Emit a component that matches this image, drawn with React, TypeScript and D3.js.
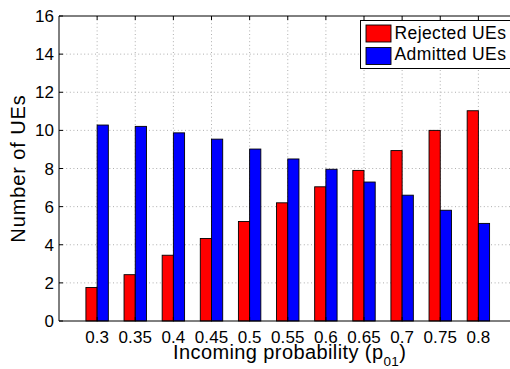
import React, { useRef, useEffect } from "react";
import * as d3 from "d3";

const categories = ["0.3", "0.35", "0.4", "0.45", "0.5", "0.55", "0.6", "0.65", "0.7", "0.75", "0.8"];
const rejected = [1.76, 2.43, 3.45, 4.33, 5.22, 6.2, 7.04, 7.9, 8.94, 10.0, 11.03];
const admitted = [10.28, 10.21, 9.87, 9.54, 9.02, 8.5, 7.96, 7.29, 6.6, 5.81, 5.12];
const yTicks = [0, 2, 4, 6, 8, 10, 12, 14, 16];
const seriesNames = ["Rejected UEs", "Admitted UEs"];
const seriesColors = ["#ff0000", "#0000ff"];

function App() {
  const svgRef = useRef<SVGSVGElement>(null);

  useEffect(() => {
    const w = 510;
    const h = 369;
    const left = 59;
    const right = 516.5;
    const top = 16;
    const bottom = 321;
    const font = "'Liberation Sans', Arial, Helvetica, sans-serif";

    const svg = d3.select(svgRef.current);
    svg.selectAll("*").remove();
    svg.attr("width", w).attr("height", h);

    const xScale = d3.scaleLinear().domain([0, categories.length + 1]).range([left, right]);
    const yScale = d3.scaleLinear().domain([0, 16]).range([bottom, top]);
    const barW = xScale(0.294) - xScale(0);

    svg.append("rect").attr("width", w).attr("height", h).attr("fill", "#fff");

    // grid
    const grid = svg.append("g").attr("stroke", "#9a9a9a").attr("stroke-width", 0.8)
      .attr("stroke-dasharray", "1,2.6");
    grid.selectAll("line.gy")
      .data(yTicks.slice(1, -1))
      .enter()
      .append("line")
      .attr("x1", left).attr("x2", right)
      .attr("y1", (d) => yScale(d)).attr("y2", (d) => yScale(d));
    grid.selectAll("line.gx")
      .data(categories)
      .enter()
      .append("line")
      .attr("x1", (d, i) => xScale(i + 1)).attr("x2", (d, i) => xScale(i + 1))
      .attr("y1", top).attr("y2", bottom);

    // bars
    const groups = [rejected, admitted];
    groups.forEach((vals, s) => {
      svg.append("g")
        .selectAll("rect")
        .data(vals)
        .enter()
        .append("rect")
        .attr("x", (d, i) => xScale(i + 1) + (s - 1) * barW)
        .attr("y", (d) => yScale(d))
        .attr("width", barW)
        .attr("height", (d) => yScale(0) - yScale(d))
        .attr("fill", seriesColors[s])
        .attr("stroke", "#000")
        .attr("stroke-width", 0.9);
    });

    // axes box
    const box = svg.append("g").attr("stroke", "#000").attr("stroke-width", 1).attr("fill", "none");
    box.append("line").attr("x1", left).attr("x2", right).attr("y1", top).attr("y2", top);
    box.append("line").attr("x1", left).attr("x2", right).attr("y1", bottom).attr("y2", bottom);
    box.append("line").attr("x1", left).attr("x2", left).attr("y1", top).attr("y2", bottom);
    box.selectAll("line.ty")
      .data(yTicks)
      .enter()
      .append("line")
      .attr("x1", left).attr("x2", left + 4)
      .attr("y1", (d) => yScale(d)).attr("y2", (d) => yScale(d));
    categories.forEach((c, i) => {
      box.append("line").attr("x1", xScale(i + 1)).attr("x2", xScale(i + 1))
        .attr("y1", bottom).attr("y2", bottom - 4);
      box.append("line").attr("x1", xScale(i + 1)).attr("x2", xScale(i + 1))
        .attr("y1", top).attr("y2", top + 4);
    });

    // tick labels
    const labels = svg.append("g")
      .attr("font-family", font)
      .attr("font-size", 17)
      .attr("letter-spacing", 0.1)
      .attr("fill", "#000");
    labels.selectAll("text.yl")
      .data(yTicks)
      .enter()
      .append("text")
      .attr("x", left - 5)
      .attr("y", (d) => yScale(d) + 6)
      .attr("text-anchor", "end")
      .text((d) => d);
    labels.selectAll("text.xl")
      .data(categories)
      .enter()
      .append("text")
      .attr("x", (d, i) => xScale(i + 1))
      .attr("y", 342.5)
      .attr("text-anchor", "middle")
      .text((d) => d);

    // axis titles
    const xt = svg.append("text")
      .attr("font-family", font)
      .attr("font-size", 20)
      .attr("letter-spacing", 0.4)
      .attr("x", 173)
      .attr("y", 358.5);
    xt.append("tspan").text("Incoming probability (p");
    xt.append("tspan").attr("font-size", 13.5).attr("dy", 7.5).text("01");
    xt.append("tspan").attr("dy", -7.5).text(")");

    svg.append("text")
      .attr("font-family", font)
      .attr("font-size", 20)
      .attr("letter-spacing", 0.9)
      .attr("transform", `translate(25, ${(top + bottom) / 2}) rotate(-90)`)
      .attr("text-anchor", "middle")
      .text("Number of UEs");

    // legend
    const legend = svg.append("g");
    legend.append("rect")
      .attr("x", 360.5).attr("y", 20.5)
      .attr("width", 170).attr("height", 48)
      .attr("fill", "#fff").attr("stroke", "#000").attr("stroke-width", 1);
    seriesNames.forEach((name, s) => {
      legend.append("rect")
        .attr("x", 366).attr("y", 25 + s * 22.5)
        .attr("width", 25).attr("height", 17)
        .attr("fill", seriesColors[s])
        .attr("stroke", "#000").attr("stroke-width", 0.9);
      legend.append("text")
        .attr("x", 394.5).attr("y", 38.5 + s * 21.5)
        .attr("font-family", font)
        .attr("font-size", 17.5)
        .attr("letter-spacing", 0.4)
        .text(name);
    });
  }, []);

  return (
    <svg ref={svgRef} style={{ position: "absolute", left: 0, top: 0, display: "block" }}></svg>
  );
}

export default App;
